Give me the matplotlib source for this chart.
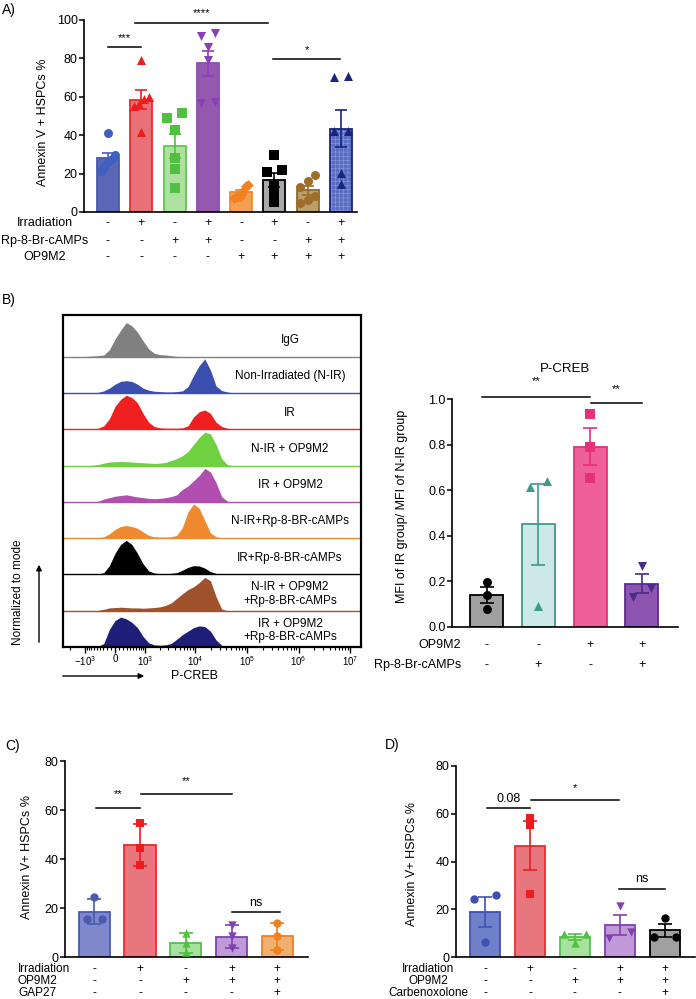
import numpy as np
import matplotlib
matplotlib.use("Agg")
import matplotlib.pyplot as plt
from matplotlib.transforms import blended_transform_factory

plt.rcParams['font.family'] = ['Liberation Sans', 'DejaVu Sans']
plt.rcParams['mathtext.fontset'] = 'custom'
plt.rcParams['mathtext.rm'] = 'Liberation Sans'
plt.rcParams['hatch.linewidth'] = 0.4

# ---- panel A: Annexin V+ HSPCs, 8 groups ----
a_values = [[41, 29.5, 27.5, 26, 23.5, 21.5],
            [79, 60, 59, 56.5, 55, 41.5],
            [51.5, 48.9, 42.5, 28, 22.4, 12.5],
            [93, 91.9, 86, 79, 57.5, 56.7],
            [14.2, 13.3, 10.7, 8, 8, 7.3],
            [29.5, 22, 20.8, 13.3, 9, 5],
            [19.4, 16, 12.8, 8.1, 6.4, 4.7],
            [71, 70.5, 42, 42, 20.3, 14.7]]
a_irr = ['-', '+', '-', '+', '-', '+', '-', '+']
a_rp = ['-', '-', '+', '+', '-', '-', '+', '+']
a_op9 = ['-', '-', '-', '-', '+', '+', '+', '+']

# ---- panel B: P-CREB histograms (normalized to mode, %) ----
hist_labels = ['IgG', 'Non-Irradiated (N-IR)', 'IR', 'N-IR + OP9M2', 'IR + OP9M2',
               'N-IR+Rp-8-BR-cAMPs', 'IR+Rp-8-BR-cAMPs',
               'N-IR + OP9M2\n+Rp-8-BR-cAMPs', 'IR + OP9M2\n+Rp-8-BR-cAMPs']
hist_colors = ['#808080', '#3a4fb0', '#f02020', '#6fd040', '#b04fb0',
               '#f08a30', '#000000', '#a0522d', '#1f1f7a']
pcreb_channels = 560 * np.sinh(np.arange(-1.5, 5.51, 0.25))
hist_heights = [
    [0, 1, 2, 3, 5, 20, 50, 75, 97, 88, 70, 45, 22, 10, 6, 5, 3, 1, 0, 0, 0, 0, 0, 0, 0, 0, 0, 0, 0],
    [0, 0, 0, 2, 6, 14, 25, 33, 35, 33, 25, 14, 8, 5, 4, 3, 3, 4, 6, 18, 50, 78, 97, 65, 20, 7, 3, 1, 0],
    [0, 0, 1, 3, 10, 30, 65, 85, 97, 90, 75, 45, 20, 8, 4, 3, 3, 3, 4, 10, 35, 50, 55, 45, 20, 8, 3, 1, 0],
    [0, 0, 1, 3, 7, 10, 11, 12, 11, 10, 9, 8, 7, 6, 7, 9, 14, 20, 28, 40, 60, 80, 95, 90, 60, 20, 3, 0, 0],
    [0, 0, 0, 2, 8, 12, 16, 18, 20, 17, 14, 12, 10, 9, 10, 12, 15, 20, 35, 45, 60, 75, 95, 85, 55, 15, 2, 0, 0],
    [0, 0, 0, 1, 4, 12, 25, 33, 36, 33, 28, 18, 8, 4, 3, 3, 4, 8, 30, 75, 97, 85, 50, 15, 4, 1, 0, 0, 0],
    [0, 0, 0, 1, 5, 25, 60, 85, 97, 85, 60, 30, 10, 4, 2, 2, 3, 5, 12, 20, 25, 24, 18, 8, 3, 1, 0, 0, 0],
    [0, 0, 0, 1, 4, 8, 9, 10, 9, 8, 8, 7, 8, 9, 11, 15, 22, 35, 48, 60, 68, 80, 95, 85, 40, 5, 0, 0, 0],
    [0, 0, 0, 2, 10, 50, 75, 85, 80, 70, 55, 30, 12, 6, 5, 6, 10, 22, 35, 45, 55, 60, 58, 45, 20, 5, 0, 0, 0],
]
hist_ticks = [-1e3, 0, 1e3, 1e4, 1e5, 1e6, 1e7]
hist_ticklabels = [r'$-10^{3}$', '0', r'$10^{3}$', r'$10^{4}$', r'$10^{5}$', r'$10^{6}$', r'$10^{7}$']

# ---- panel B: P-CREB MFI ratio ----
b_values = [[0.198, 0.14, 0.08], [0.642, 0.616, 0.092],
            [0.934, 0.789, 0.652], [0.268, 0.169, 0.132]]
b_op9 = ['-', '-', '+', '+']
b_rp = ['-', '+', '-', '+']

# ---- panel C ----
c_values = [[24.4, 15.6, 15.6], [54.9, 44.7, 37.6], [9.8, 5.7, 2.0],
            [13.2, 8.5, 3.7], [14, 8.7, 3]]
c_irr = ['-', '+', '-', '+', '+']
c_op9 = ['-', '-', '+', '+', '+']
c_gap = ['-', '-', '-', '-', '+']

# ---- panel D ----
d_values = [[25.9, 24.5, 6.4], [58.4, 55.4, 26.3], [9.9, 9.9, 6.1],
            [21.6, 10.7, 7.9], [16.6, 8.6, 8.6]]
d_irr = ['-', '+', '-', '+', '+']
d_op9 = ['-', '-', '+', '+', '+']
d_cbx = ['-', '-', '-', '-', '+']

W, H = 696, 999
fig = plt.figure(figsize=(W / 100, H / 100), dpi=100)


def fx(px):
    return px / W


def fy(py):
    return 1 - py / H


def add_ax(l, t, r, b):
    return fig.add_axes([fx(l), fy(b), (r - l) / W, (b - t) / H])


def swarm(vals, tol, spread):
    # points closer than tol are spread sideways over +-spread
    vals = np.asarray(vals, float)
    order = np.argsort(vals)
    offs = np.zeros(len(vals))
    groups, cluster = [], [order[0]]
    for a, b in zip(order[:-1], order[1:]):
        if vals[b] - vals[a] < tol:
            cluster.append(b)
        else:
            groups.append(cluster)
            cluster = [b]
    groups.append(cluster)
    for g in groups:
        if len(g) > 1:
            offs[g] = np.linspace(-spread, spread, len(g))
    return offs


def draw_bars(ax, values, fills, edges, marks, markers, width, ms, tol, spread,
              err='sem', capsize=4, hatch_colors=None):
    for i, v in enumerate(values):
        v = np.asarray(v, float)
        m = v.mean()
        e = v.std(ddof=1)
        if err == 'sem':
            e /= np.sqrt(len(v))
        if hatch_colors and hatch_colors[i]:
            ax.bar(i, m, width, color=fills[i], edgecolor=hatch_colors[i], hatch='++++', lw=0, zorder=2)
            ax.bar(i, m, width, fill=False, edgecolor=edges[i], lw=1.3, zorder=2)
        else:
            ax.bar(i, m, width, color=fills[i], edgecolor=edges[i], lw=1.3, zorder=2)
        ax.errorbar(i, m, yerr=e, fmt='none', ecolor=marks[i], capsize=capsize,
                    elinewidth=1.2, capthick=1.2, zorder=3)
        size = ms * 0.7 if markers[i] == 'D' else ms
        ax.scatter(i + swarm(v, tol, spread), v, marker=markers[i], s=size, color=marks[i],
                   zorder=4, clip_on=False, linewidths=0)


def style(ax, ylim, yticks, xlim, fmt=None):
    for s in ['top', 'right']:
        ax.spines[s].set_visible(False)
    for s in ['left', 'bottom']:
        ax.spines[s].set_linewidth(1.2)
    ax.set_ylim(*ylim)
    ax.set_xlim(*xlim)
    ax.set_yticks(yticks)
    if fmt:
        ax.set_yticklabels([fmt % t for t in yticks])
    ax.set_xticks([])
    ax.tick_params(axis='y', length=3.5, width=1.1, labelsize=9, pad=1)


def sig(ax, x1, x2, y, text, ty, size=8):
    ax.plot([x1, x2], [y, y], color='k', lw=1.1, clip_on=False, zorder=5)
    ax.text((x1 + x2) / 2, ty, text, ha='center', va='center', fontsize=size)


def cond_rows(ax, rows, labels, ys, label_x, ha, size=9):
    tr = blended_transform_factory(ax.transData, fig.transFigure)
    for row, lab, y in zip(rows, labels, ys):
        fig.text(fx(label_x), fy(y), lab, ha=ha, va='center', fontsize=size)
        for i, s in enumerate(row):
            ax.text(i, fy(y), s, transform=tr, ha='center', va='center', fontsize=size)


# ================= A =================
axA = add_ax(84, 20, 357, 212)
draw_bars(axA, a_values,
          fills=['#5a67b5', '#e87078', '#b0e0a0', '#9458ae', '#f0a050', '#a8a8a8', '#b8a068', '#5a6cc0'],
          edges=['#4a5aad', '#ee2a2a', '#5cc850', '#8a4fb0', '#f08a30', '#000000', '#8c6a30', '#1a237e'],
          marks=['#4060c0', '#ee1c1c', '#50c040', '#8b3fb5', '#f08020', '#000000', '#a06c28', '#1a237e'],
          markers=['o', '^', 's', 'v', 'D', 's', 'o', '^'],
          width=0.66, ms=42, tol=4, spread=0.22, capsize=4,
          hatch_colors=[None] * 7 + ['#8a9ad8'])
style(axA, (0, 100), [0, 20, 40, 60, 80, 100], (-0.72, 7.48))
axA.set_ylabel('Annexin V + HSPCs %', fontsize=9)
axA.yaxis.set_label_coords((49 - 84) / 273, 0.47)
sig(axA, 0, 1, 86, '***', 90.5)
sig(axA, 0.8, 4.8, 98.6, '****', 103.5)
sig(axA, 4.97, 6.97, 79.5, '*', 84.4)
cond_rows(axA, [a_irr, a_rp, a_op9], ['Irradiation', 'Rp-8-Br-cAMPs', 'OP9M2'],
          [223, 241, 257], 45, 'center')
fig.text(fx(2), fy(10), 'A)', fontsize=10, va='center')

# ================= B histograms =================
axH = add_ax(63, 315, 361, 647)
axH.set_xscale('asinh', linear_width=560)
axH.set_xlim(-2811, 1.603e7)
axH.set_ylim(0, 9.15)
trH = blended_transform_factory(axH.transAxes, axH.transData)
for i, (lab, col, h) in enumerate(zip(hist_labels, hist_colors, hist_heights)):
    base = 8 - i
    axH.fill_between(pcreb_channels, base, base + np.array(h) / 100 * 0.97, color=col, lw=0)
    axH.axhline(base, color=col, lw=1)
    axH.text(0.762, base + 0.46, lab, transform=trH, ha='center', va='center',
             fontsize=8.5, linespacing=1.15)
axH.set_yticks([])
axH.set_xticks(hist_ticks, hist_ticklabels)
minor = ([-m * 100 for m in range(1, 10)] + [-2000] + [m * 100 for m in range(1, 10)]
         + [m * 10 ** k for k in range(3, 7) for m in range(2, 10)])
axH.set_xticks(minor, minor=True)
axH.tick_params(axis='x', which='major', length=4, width=1, labelsize=7, pad=1)
axH.tick_params(axis='x', which='minor', length=2, width=0.8)
for sp in axH.spines.values():
    sp.set_linewidth(1.6)
fig.text(fx(18), fy(592), 'Normalized to mode', rotation=90, ha='center', va='center', fontsize=8.5)
fig.add_artist(matplotlib.patches.FancyArrowPatch((fx(39), fy(645)), (fx(39), fy(562)),
               transform=fig.transFigure, arrowstyle='-|>', mutation_scale=8, color='k', lw=1))
fig.add_artist(matplotlib.patches.FancyArrowPatch((fx(60), fy(676)), (fx(147), fy(676)),
               transform=fig.transFigure, arrowstyle='-|>', mutation_scale=8, color='k', lw=1))
fig.text(fx(195), fy(676), 'P-CREB', ha='center', va='center', fontsize=9)
fig.text(fx(2), fy(300), 'B)', fontsize=10, va='center')

# ================= B bar chart =================
axB = add_ax(451.7, 399.3, 678, 626.7)
draw_bars(axB, b_values,
          fills=['#a0a0a0', '#cde8e8', '#ee5f9c', '#8e55b0'],
          edges=['#000000', '#3f9a8c', '#e8307a', '#5c2d91'],
          marks=['#000000', '#3f9a8c', '#e8307a', '#4b2a8a'],
          markers=['o', '^', 's', 'v'],
          width=0.64, ms=42, tol=0.04, spread=0.17, capsize=5)
style(axB, (0, 1), [0, 0.2, 0.4, 0.6, 0.8, 1.0], (-0.68, 3.70), fmt='%.1f')
axB.set_ylabel('MFI of IR group/ MFI of N-IR group', fontsize=9)
axB.yaxis.set_label_coords((408 - 451.7) / 226.3, 0.53)
axB.set_title('P-CREB', fontsize=9.5, pad=20)
sig(axB, -0.1, 2.0, 1.01, '**', 1.08)
sig(axB, 2.01, 3.01, 0.985, '**', 1.045)
cond_rows(axB, [b_op9, b_rp], ['OP9M2', 'Rp-8-Br-cAMPs'], [645, 665], 461, 'right')

# ================= C =================
axC = add_ax(65, 761, 308, 957.3)
draw_bars(axC, c_values,
          fills=['#8088cc', '#e8767e', '#a8e0a0', '#c09ad8', '#f0b070'],
          edges=['#4a5aad', '#ee2a2a', '#55c050', '#8040b0', '#f08020'],
          marks=['#4a5aad', '#ee1c1c', '#50c040', '#8040b0', '#f08020'],
          markers=['o', 's', '^', 'v', 'o'],
          width=0.68, ms=36, tol=3, spread=0.16, err='sd', capsize=5)
style(axC, (0, 80), [0, 20, 40, 60, 80], (-0.64, 4.67))
axC.set_ylabel('Annexin V+ HSPCs %', fontsize=9)
axC.yaxis.set_label_coords((33 - 65) / 243, 0.51)
sig(axC, 0.03, 1.0, 60.7, '**', 66.5)
sig(axC, 1.02, 3.0, 66.5, '**', 71.8)
sig(axC, 3.02, 4.05, 18.3, 'ns', 22.3, size=9)
cond_rows(axC, [c_irr, c_op9, c_gap], ['Irradiation', 'OP9M2', 'GAP27'],
          [969, 981, 993], 18, 'left', size=8.5)
fig.text(fx(5), fy(746), 'C)', fontsize=10, va='center')

# ================= D =================
axD = add_ax(456, 766, 695, 957.3)
draw_bars(axD, d_values,
          fills=['#7080c8', '#e8767e', '#a8e0a0', '#c09ad8', '#a0a0a0'],
          edges=['#4050b0', '#ee2a2a', '#55c050', '#8040b0', '#000000'],
          marks=['#4050b0', '#ee1c1c', '#50c040', '#8040b0', '#000000'],
          markers=['o', 's', '^', 'v', 'o'],
          width=0.68, ms=36, tol=3, spread=0.25, capsize=5)
style(axD, (0, 80), [0, 20, 40, 60, 80], (-0.644, 4.67))
axD.set_ylabel('Annexin V+ HSPCs %', fontsize=9)
axD.yaxis.set_label_coords((418 - 456) / 239, 0.49)
sig(axD, 0.04, 1.0, 62.3, '0.08', 66.2, size=9)
sig(axD, 1.02, 2.98, 65.8, '*', 70.8)
sig(axD, 2.98, 4.0, 28.6, 'ns', 32.6, size=9)
cond_rows(axD, [d_irr, d_op9, d_cbx], ['Irradiation', 'OP9M2', 'Carbenoxolone'],
          [969, 981, 993], 428, 'center', size=8.5)
fig.text(fx(385), fy(745), 'D)', fontsize=10, va='center')

fig.savefig('out.png', dpi=100)
